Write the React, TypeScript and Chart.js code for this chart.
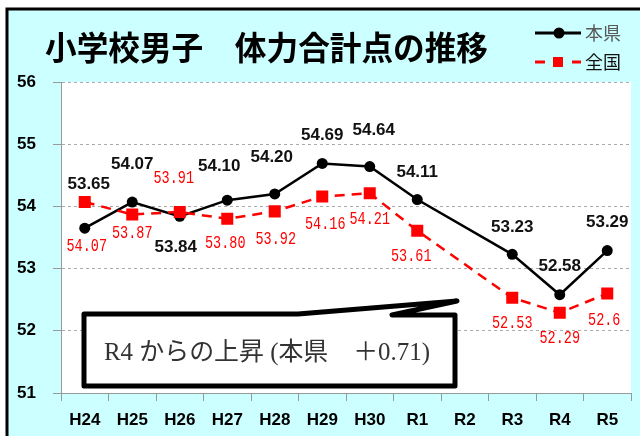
import React, { useEffect, useRef } from "react";
import { Chart, registerables } from "chart.js";

Chart.register(...registerables);

const titleText = "小学校男子　体力合計点の推移";
const categories = ["H24", "H25", "H26", "H27", "H28", "H29", "H30", "R1", "R2", "R3", "R4", "R5"];
const prefName = "本県";
const natName = "全国";
const prefValues: (number | null)[] = [53.65, 54.07, 53.84, 54.1, 54.2, 54.69, 54.64, 54.11, null, 53.23, 52.58, 53.29];
const natValues: (number | null)[] = [54.07, 53.87, 53.91, 53.8, 53.92, 54.16, 54.21, 53.61, null, 52.53, 52.29, 52.6];
const prefLabels = ["53.65", "54.07", "53.84", "54.10", "54.20", "54.69", "54.64", "54.11", "", "53.23", "52.58", "53.29"];
const natLabels = ["54.07", "53.87", "53.91", "53.80", "53.92", "54.16", "54.21", "53.61", "", "52.53", "52.29", "52.6"];
const yMin = 51;
const yMax = 56;
const calloutText = "R4 からの上昇 (本県　＋0.71)";

// label placement (style only)
const prefDy = [-44, -38, 31, -34, -37, -28, -36, -27, 0, -27, -28, -28];
const prefDx = [4, 0, -4, -8, -3, 0, 4, 0, 0, 0, 0, 0];
const natDy = [44, 19, -34, 24, 28, 28, 26, 26, 0, 25, 25, 27];
const natDx = [2, 0, -6, -2, 1, 3, 0, -6, 0, 0, 0, -3];

const RED = "#FF0000";
const CYAN = "#CCFFFF";

const decorPlugin = {
  id: "decor",
  beforeDraw(chart: any) {
    const { ctx, chartArea: ca } = chart;
    ctx.save();
    ctx.fillStyle = "#ffffff";
    ctx.fillRect(0, 0, chart.width, chart.height);
    ctx.fillStyle = CYAN;
    ctx.fillRect(7, 9, 800, 600);
    ctx.strokeStyle = "#000";
    ctx.lineWidth = 3;
    ctx.strokeRect(7, 9, 800, 600);
    ctx.fillStyle = "#ffffff";
    ctx.fillRect(ca.left, ca.top, ca.right - ca.left, ca.bottom - ca.top);

    // title
    ctx.fillStyle = "#000";
    ctx.font = "bold 33px 'Noto Sans CJK JP'";
    ctx.textBaseline = "middle";
    ctx.textAlign = "left";
    const tw = ctx.measureText(titleText).width;
    ctx.save();
    ctx.translate(45, 47);
    ctx.scale(443 / tw, 1);
    ctx.fillText(titleText, 0, 0);
    ctx.restore();

    // legend
    ctx.lineWidth = 3;
    ctx.strokeStyle = "#000";
    ctx.beginPath();
    ctx.moveTo(535, 33);
    ctx.lineTo(581, 33);
    ctx.stroke();
    ctx.fillStyle = "#000";
    ctx.beginPath();
    ctx.arc(559, 33, 5.5, 0, Math.PI * 2);
    ctx.fill();
    ctx.strokeStyle = RED;
    ctx.beginPath();
    ctx.moveTo(535, 62);
    ctx.lineTo(545, 62);
    ctx.moveTo(572, 62);
    ctx.lineTo(581, 62);
    ctx.stroke();
    ctx.fillStyle = RED;
    ctx.fillRect(553, 57, 10, 10);
    ctx.font = "18px 'Noto Sans CJK JP'";
    ctx.textBaseline = "middle";
    ctx.fillStyle = "#595959";
    ctx.fillText(prefName, 585, 33);
    ctx.fillStyle = "#111";
    ctx.fillText(natName, 585, 62);
    ctx.restore();
  },
  afterDatasetsDraw(chart: any) {
    const { ctx } = chart;
    const prefMeta = chart.getDatasetMeta(1);
    const natMeta = chart.getDatasetMeta(0);
    ctx.save();
    ctx.textAlign = "center";
    ctx.textBaseline = "middle";
    // national labels (narrow mono)
    natMeta.data.forEach((pt: any, i: number) => {
      if (natValues[i] == null) return;
      ctx.save();
      ctx.translate(pt.x + natDx[i], pt.y + natDy[i]);
      ctx.scale(0.75, 1);
      ctx.font = "18px 'Liberation Mono'";
      ctx.fillStyle = RED;
      ctx.fillText(natLabels[i], 0, 0);
      ctx.restore();
    });
    prefMeta.data.forEach((pt: any, i: number) => {
      if (prefValues[i] == null) return;
      ctx.font = "bold 17px 'Liberation Sans'";
      ctx.fillStyle = "#111";
      ctx.fillText(prefLabels[i], pt.x + prefDx[i], pt.y + prefDy[i]);
    });

    // callout
    ctx.lineWidth = 5;
    ctx.lineJoin = "round";
    ctx.strokeStyle = "#000";
    ctx.fillStyle = "#fff";
    ctx.beginPath();
    ctx.moveTo(84, 314);
    ctx.lineTo(298, 314);
    ctx.lineTo(457, 301);
    ctx.lineTo(392, 315);
    ctx.lineTo(455, 315);
    ctx.lineTo(455, 386);
    ctx.lineTo(84, 386);
    ctx.closePath();
    ctx.fill();
    ctx.stroke();
    ctx.fillStyle = "#333";
    ctx.font = "25px 'Liberation Serif', 'Noto Sans CJK JP'";
    ctx.textAlign = "left";
    ctx.textBaseline = "alphabetic";
    const cw = ctx.measureText(calloutText).width;
    ctx.save();
    ctx.translate(104, 360);
    ctx.scale(326 / cw, 1);
    ctx.fillText(calloutText, 0, 0);
    ctx.restore();
    ctx.restore();
  },
};

export default function App() {
  const ref = useRef<HTMLCanvasElement>(null);
  useEffect(() => {
    const chart = new Chart(ref.current as HTMLCanvasElement, {
      type: "line",
      data: {
        labels: categories,
        datasets: [
          {
            label: natName,
            data: natValues,
            borderColor: RED,
            backgroundColor: RED,
            borderWidth: 2.5,
            borderDash: [10, 7],
            pointStyle: "rect",
            pointRadius: 8.5,
            pointBackgroundColor: RED,
            pointBorderColor: RED,
            pointBorderWidth: 0,
            spanGaps: true,
            order: 0,
          },
          {
            label: prefName,
            data: prefValues,
            borderColor: "#000",
            backgroundColor: "#000",
            borderWidth: 2.5,
            pointStyle: "circle",
            pointRadius: 5.5,
            pointBackgroundColor: "#000",
            pointBorderColor: "#000",
            pointBorderWidth: 0,
            spanGaps: true,
            order: 1,
          },
        ],
      },
      plugins: [decorPlugin],
      options: {
        responsive: false,
        animation: false,
        devicePixelRatio: 1,
        events: [],
        layout: { padding: { top: 82, right: 9, left: 0, bottom: 0 } },
        plugins: {
          legend: { display: false },
          title: { display: false },
          tooltip: { enabled: false },
        },
        scales: {
          x: {
            type: "category",
            offset: true,
            grid: {
              offset: true,
              drawOnChartArea: false,
              drawTicks: true,
              tickLength: 8,
              color: "#999",
            },
            border: { display: true, color: "#999", width: 1 },
            ticks: {
              color: "#000",
              font: { family: "'Liberation Sans'", size: 17, weight: "bold" },
              padding: 9,
              maxRotation: 0,
              autoSkip: false,
            },
            afterFit(scale: any) {
              scale.height = 43;
            },
          },
          y: {
            min: yMin,
            max: yMax,
            ticks: {
              stepSize: 1,
              color: "#000",
              font: { family: "'Liberation Sans'", size: 17, weight: "bold" },
              padding: 17,
            },
            grid: {
              color: "#aaa",
              tickColor: "#999",
              tickLength: 8,
              tickBorderDash: [],
            },
            border: { display: true, color: "#999", width: 1, dash: [3, 3] },
            afterFit(scale: any) {
              scale.width = 61;
            },
          },
        },
      } as any,
    });
    return () => chart.destroy();
  }, []);
  return (
    <div style={{ position: "fixed", left: 0, top: 0, width: 640, height: 436 }}>
      <canvas ref={ref} width={640} height={436} style={{ display: "block", width: 640, height: 436 }} />
    </div>
  );
}
